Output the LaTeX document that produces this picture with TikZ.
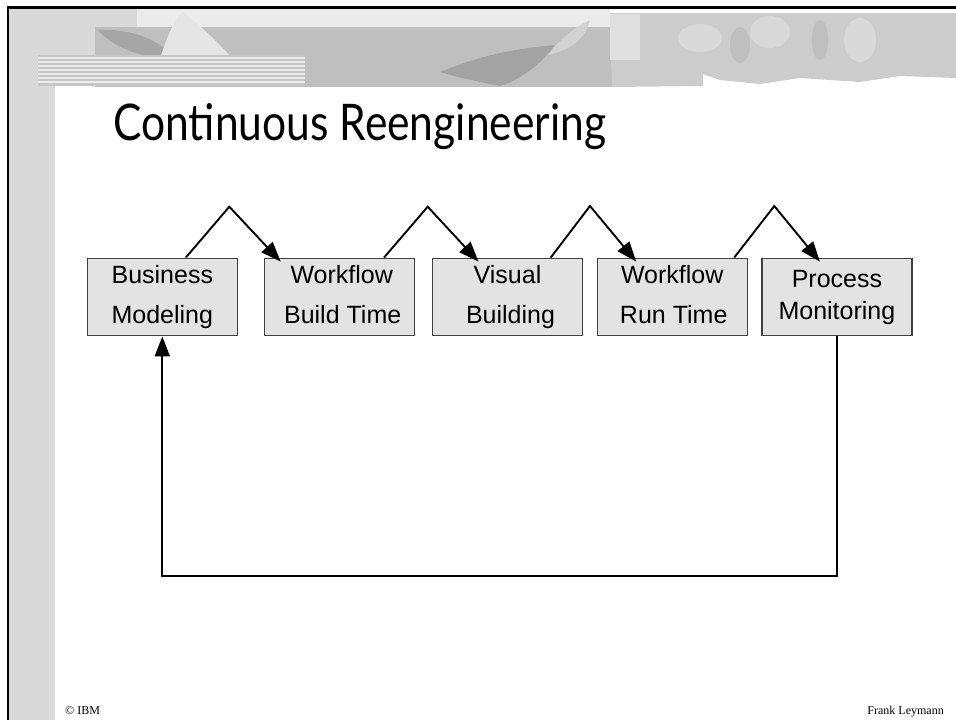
\documentclass[tikz,border=0pt]{standalone}
\usepackage{fontspec}
\setmainfont{Liberation Sans}
\newfontfamily\titlefont{Lato}
\newfontfamily\footfont{Liberation Serif}
\usetikzlibrary{arrows.meta}
\newcommand\topstrut{\rule{0pt}{18pt}}
\newcommand\botstrut{\rule[-5.5pt]{0pt}{5.5pt}}
\begin{document}
\begin{tikzpicture}[x=1pt,y=-1pt,
  box/.style={draw=black!75, line width=1.3pt, fill=black!11,
    minimum width=150pt, minimum height=77.5pt, inner sep=0pt,
    align=center, font=\fontsize{25}{40}\selectfont},
  arr/.style={line width=1.9pt, -{Triangle[length=20pt,width=15pt]}},
  footer/.style={font=\footfont\fontsize{12}{14}\selectfont, inner sep=0pt}]
\useasboundingbox (0,0) rectangle (956,720);
% background decoration
\fill[white] (0,0) rectangle (956,720);
\fill[gray!30] (9,9) rectangle (55,720);
\fill[gray!30] (9,9) rectangle (137,27);
\fill[gray!30] (9,27) rectangle (95,55);
\fill[gray!16] (137,9) rectangle (610,27);
\fill[gray!50] (95,27) rectangle (612,87);
\fill[gray!70] (98,30) .. controls (130,28) and (160,40) .. (175,58) .. controls (150,60) and (115,50) .. cycle;
\fill[gray!20] (160,58) .. controls (170,30) and (175,18) .. (183,12) .. controls (200,25) and (215,40) .. (232,58) .. controls (210,55) and (185,58) .. cycle;
\fill[gray!72] (440,72) .. controls (470,60) and (500,50) .. (555,45) .. controls (540,65) and (520,80) .. (500,86) .. controls (480,82) and (460,78) .. cycle;
\fill[gray!35] (590,20) .. controls (570,30) and (560,40) .. (548,55) .. controls (570,50) and (585,40) .. cycle;
% horizontal stripes
\fill[gray!45] (38,55) rectangle (305,86);
\foreach \yy in {57,61,65,69,73,77,81} {
  \fill[white!85!gray] (38,\yy) rectangle (305,\yy+1.5);
}
% right block
\fill[gray!40] (610,13) -- (956,13) -- (956,78) -- (900,76) -- (860,82) -- (800,78) -- (760,84) -- (720,80) -- (703,74) -- (703,86) -- (612,87) -- cycle;
\fill[gray!25] (610,14) rectangle (640,60);
\fill[gray!30] (770,32) ellipse (20 and 16);
\fill[gray!30] (860,40) ellipse (16 and 22);
\fill[gray!30] (700,38) ellipse (22 and 14);
\fill[gray!50] (740,45) ellipse (10 and 18);
\fill[gray!50] (820,40) ellipse (8 and 20);
% frame lines
\draw[line width=2.2pt] (8.3,720) -- (8.3,7.5) -- (956,7.5);
% title
\node[anchor=base west, inner sep=0pt] (title) at (113,140)
  {\resizebox{493pt}{37pt}{\titlefont Continuous Reengineering}};
% boxes
\node[box] (b1) at (162.3,297) {\topstrut Business\\Modeling\botstrut};
\node[box] (b2) at (339.7,297) {\topstrut\hspace{4pt}Workflow\\\hspace{6pt}Build Time\botstrut};
\node[box] (b3) at (507.5,297) {\topstrut Visual\\\hspace{6pt}Building\botstrut};
\node[box] (b4) at (672.2,297) {\topstrut Workflow\\\hspace{3pt}Run Time\botstrut};
\node[box, font=\fontsize{25}{32}\selectfont] (b5) at (836.9,297) {\topstrut Process\hspace{10pt}\\Monitoring\botstrut};
% arrows between boxes
\coordinate (p1) at (229.3,206.7);
\coordinate (p2) at (427.7,206.7);
\coordinate (p3) at (590,206);
\coordinate (p4) at (774.3,206);
\draw[arr] ([xshift=23.5pt]b1.north) -- (p1) -- ([xshift=-59pt,yshift=-4pt]b2.north);
\draw[arr] ([xshift=44.3pt]b2.north) -- (p2) -- ([xshift=-29pt,yshift=-4pt]b3.north);
\draw[arr] ([xshift=43.2pt]b3.north) -- (p3) -- ([xshift=-36pt,yshift=-4pt]b4.north);
\draw[arr] ([xshift=62pt]b4.north) -- (p4) -- ([xshift=-17pt,yshift=-4pt]b5.north);
% feedback loop
\coordinate (loopR) at (836.9,576);
\coordinate (loopL) at (162.3,576);
\draw[arr] (b5.south) -- (loopR) -- (loopL) -- (b1.south);
% footer
\node[footer, anchor=base west] (copy) at (65,714) {© IBM};
\node[footer, anchor=base east] (author) at (944,714) {Frank Leymann};
\end{tikzpicture}
\end{document}
